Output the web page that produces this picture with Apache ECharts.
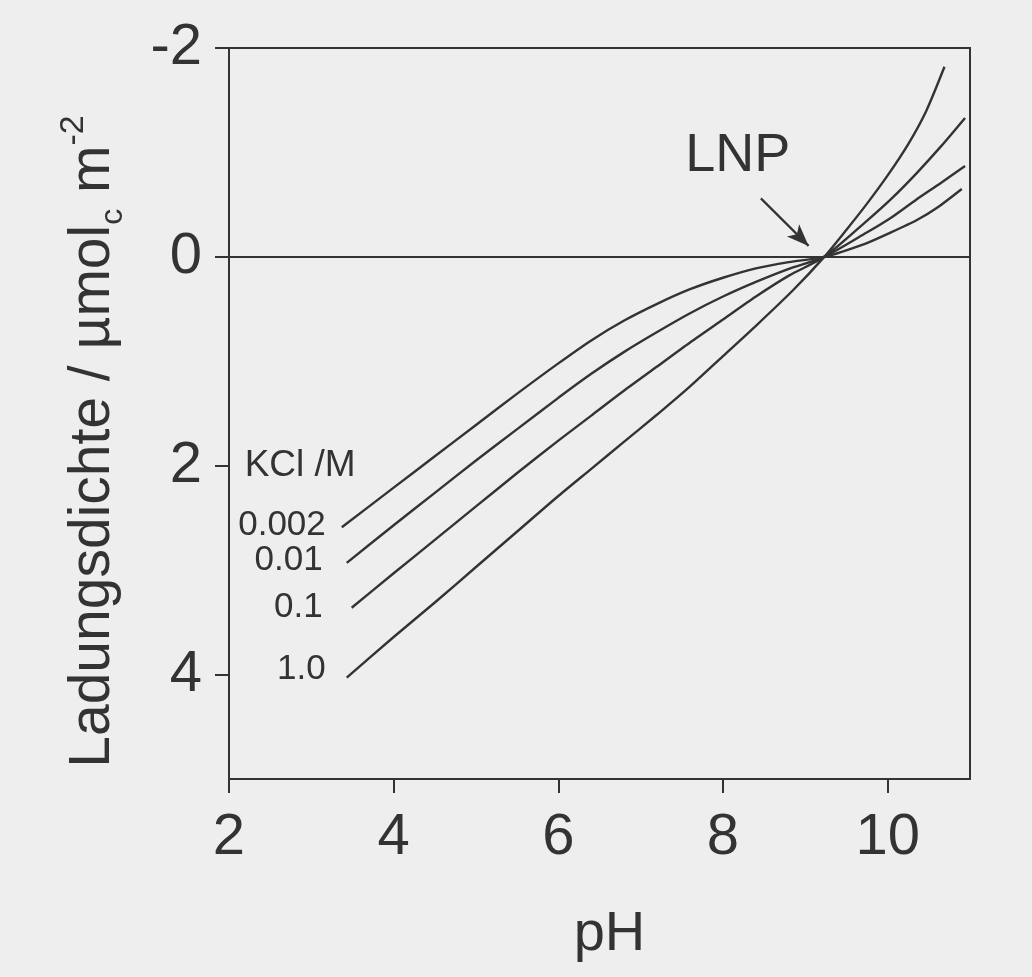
<!DOCTYPE html>
<html>
<head>
<meta charset="utf-8">
<script src="https://cdn.jsdelivr.net/npm/echarts@6/dist/echarts.min.js"></script>
<style>
  html, body { margin: 0; padding: 0; background: #eeeeee; }
  #chart { width: 1032px; height: 977px; }
</style>
</head>
<body>
<div id="chart"></div>
<script>
// ---- data (pH, surface charge density / µmol_c m^-2; y axis drawn inverted) ----
const phTicks = [2, 4, 6, 8, 10];
const chargeTicks = [-2, 0, 2, 4];
const kclLevels = ['0.002', '0.01', '0.1', '1.0'];

const curve0002 = [[3.37, 2.59], [4.0, 2.21], [4.5, 1.91], [5.0, 1.61], [5.5, 1.31], [6.0, 1.02], [6.4, 0.80],
  [6.8, 0.61], [7.2, 0.45], [7.6, 0.31], [8.0, 0.20], [8.4, 0.11], [8.8, 0.05], [9.23, 0.0],
  [9.74, -0.13], [10.0, -0.22], [10.35, -0.35], [10.6, -0.47], [10.9, -0.65]];
const curve001 = [[3.43, 2.93], [4.0, 2.57], [4.5, 2.26], [5.0, 1.95], [5.5, 1.65], [6.0, 1.35], [6.4, 1.12],
  [6.8, 0.91], [7.2, 0.72], [7.6, 0.54], [8.0, 0.38], [8.4, 0.24], [8.8, 0.115], [9.23, 0.0],
  [9.74, -0.23], [10.05, -0.38], [10.35, -0.55], [10.65, -0.71], [10.94, -0.87]];
const curve01 = [[3.49, 3.36], [4.0, 3.03], [4.5, 2.71], [5.0, 2.39], [5.5, 2.07], [6.0, 1.76], [6.4, 1.52],
  [6.8, 1.28], [7.2, 1.05], [7.6, 0.82], [8.0, 0.60], [8.4, 0.38], [8.8, 0.18], [9.23, 0.0],
  [9.74, -0.34], [10.05, -0.56], [10.35, -0.80], [10.65, -1.06], [10.94, -1.33]];
const curve1 = [[3.43, 4.03], [4.0, 3.64], [4.5, 3.31], [5.0, 2.97], [5.5, 2.63], [6.0, 2.29], [6.4, 2.03],
  [6.8, 1.77], [7.2, 1.51], [7.6, 1.24], [8.0, 0.95], [8.4, 0.66], [8.85, 0.32], [9.23, 0.0],
  [9.5, -0.26], [9.74, -0.50], [10.0, -0.78], [10.25, -1.08], [10.47, -1.40], [10.69, -1.82]];
const curves = [curve0002, curve001, curve01, curve1];

const lnpText = 'LNP';
const lnpLabelAt = [8.18, -0.96];
const lnpArrowFrom = [8.46, -0.56];
const lnpArrowTo = [9.04, -0.105];
const kclHeader = 'KCl /M';
const kclHeaderAt = [2.19, 2.0];

// ---- styling ----
const INK = '#333333';
const FONT = '"Liberation Sans", Arial, Helvetica, sans-serif';
const labelDist = [16, 24, 29, 21];
const labelDy = [-2, -2, 0, -8];

const chart = echarts.init(document.getElementById('chart'), null, { renderer: 'canvas' });

const lineSeries = curves.map((c, i) => ({
  type: 'line',
  name: kclLevels[i],
  data: c,
  smooth: 0.25,
  symbol: 'none',
  lineStyle: { color: INK, width: 2.4 },
  silent: true,
  z: 3
}));

const labelSeries = {
  type: 'scatter',
  silent: true,
  symbolSize: 0,
  itemStyle: { opacity: 1 },
  data: curves.map((c, i) => ({
    value: c[0],
    label: {
      show: true,
      formatter: kclLevels[i],
      position: 'left',
      distance: labelDist[i],
      offset: [0, labelDy[i]],
      color: INK,
      opacity: 1,
      fontFamily: FONT,
      fontSize: 35
    }
  })),
  z: 4
};

const annotSeries = {
  type: 'line',
  data: [],
  silent: true,
  markLine: {
    silent: true,
    animation: false,
    label: { show: false },
    data: [
      [{ coord: lnpArrowFrom, symbol: 'none' }, { coord: lnpArrowTo, symbol: 'arrow', symbolSize: [13, 22] }]
    ],
    lineStyle: { color: INK, width: 2.2, type: 'solid' }
  },
  markPoint: {
    silent: true,
    animation: false,
    symbolSize: 0,
    data: [
      { coord: lnpLabelAt, label: { show: true, formatter: lnpText, position: 'inside', color: INK, fontFamily: FONT, fontSize: 54 } },
      { coord: kclHeaderAt, label: { show: true, formatter: kclHeader, position: 'right', distance: 0, color: INK, fontFamily: FONT, fontSize: 37 } }
    ]
  }
};

const zeroSeries = {
  type: 'line',
  data: [],
  silent: true,
  markLine: {
    silent: true,
    animation: false,
    symbol: ['none', 'none'],
    label: { show: false },
    lineStyle: { color: INK, width: 2, type: 'solid' },
    data: [{ yAxis: 0 }]
  }
};

const option = {
  backgroundColor: '#eeeeee',
  animation: false,
  grid: {
    left: 229, top: 48, right: 62, bottom: 198,
    show: true, borderColor: INK, borderWidth: 2, backgroundColor: 'transparent'
  },
  xAxis: {
    type: 'value',
    min: 2, max: 11, interval: 2,
    name: 'pH',
    nameLocation: 'middle',
    nameGap: 128,
    nameTextStyle: { color: INK, fontFamily: FONT, fontSize: 56, padding: [0, 0, 0, 20] },
    axisLine: { show: true, onZero: false, lineStyle: { color: INK, width: 2 } },
    axisTick: { show: true, length: 14, inside: false, lineStyle: { color: INK, width: 2 }, customValues: phTicks },
    axisLabel: { color: INK, fontFamily: FONT, fontSize: 58, margin: 30, customValues: phTicks },
    splitLine: { show: false }
  },
  yAxis: {
    type: 'value',
    inverse: true,
    min: -2, max: 5, interval: 2,
    name: '{a|Ladungsdichte / µmol}{sub|c}{a| m}{sup|-2}',
    nameLocation: 'middle',
    nameRotate: 90,
    nameGap: 100,
    nameTextStyle: {
      color: INK, fontFamily: FONT, fontSize: 57,
      padding: [0, 56, 0, 0],
      rich: {
        a: { color: INK, fontFamily: FONT, fontSize: 57, lineHeight: 72, verticalAlign: 'middle' },
        sub: { color: INK, fontFamily: FONT, fontSize: 32, lineHeight: 72, verticalAlign: 'bottom' },
        sup: { color: INK, fontFamily: FONT, fontSize: 34, lineHeight: 72, verticalAlign: 'top' }
      }
    },
    axisLine: { show: true, onZero: false, lineStyle: { color: INK, width: 2 } },
    axisTick: { show: true, length: 14, inside: false, lineStyle: { color: INK, width: 2 }, customValues: chargeTicks },
    axisLabel: { color: INK, fontFamily: FONT, fontSize: 58, margin: 27, customValues: chargeTicks },
    splitLine: { show: false }
  },
  series: [zeroSeries, ...lineSeries, labelSeries, annotSeries]
};

chart.setOption(option);
</script>
</body>
</html>
